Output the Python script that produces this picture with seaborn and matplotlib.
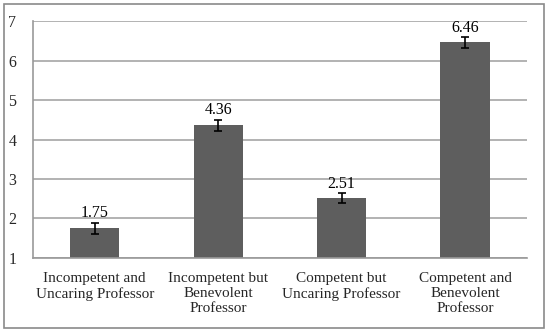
import matplotlib
matplotlib.use("Agg")
import matplotlib.pyplot as plt
import seaborn as sns
import pandas as pd
from matplotlib.patches import Rectangle

categories = ["Incompetent and\nUncaring Professor",
              "Incompetent but\nBenevolent\nProfessor",
              "Competent but\nUncaring Professor",
              "Competent and\nBenevolent\nProfessor"]
means = [1.75, 4.36, 2.51, 6.46]
errors = [0.14, 0.14, 0.13, 0.13]
labels = ["1.75", "4.36", "2.51", "6.46"]
yticks = [1, 2, 3, 4, 5, 6, 7]

sns.set_style("white")
plt.rcParams['font.family'] = ['Liberation Serif', 'DejaVu Serif']

df = pd.DataFrame({"cat": categories, "mean": means})

fig = plt.figure(figsize=(5.5, 3.35), dpi=100)
ax = fig.add_axes([0.06, 0.23, 0.898, 0.707])

sns.barplot(data=df, x="cat", y="mean", color="#5e5e5e", saturation=1,
            width=0.4, ax=ax, bottom=0)
for p in ax.patches:
    h = p.get_height()
    p.set_y(1)
    p.set_height(h - 1)
    p.set_edgecolor("none")

xs = list(range(len(categories)))
ax.errorbar(xs, means, yerr=errors, fmt="none", ecolor="black",
            elinewidth=1.2, capsize=3, capthick=1.2, zorder=5)
for x, m, e, lab in zip(xs, means, errors, labels):
    ax.annotate(lab, (x, m + e), xytext=(0, 1), textcoords="offset points",
                ha="center", va="bottom", fontsize=11.5, color="black")

ax.set_ylim(1, 7)
ax.set_xlim(-0.5, 3.5)
ax.set_yticks(yticks)
ax.set_yticklabels([str(t) for t in yticks], fontsize=11.5)
ax.set_xticks(xs)
ax.set_xticklabels(categories, fontsize=11, linespacing=1.2)
ax.set_xticks([0.5, 1.5, 2.5, 3.5, -0.5], minor=True)
ax.tick_params(axis="x", which="major", length=0, pad=10)
ax.tick_params(axis="x", which="minor", length=4, color="#999999", width=1, direction="out")
ax.tick_params(axis="y", length=4, color="#999999", width=1, direction="out", pad=8)
ax.set_xlabel("")
ax.set_ylabel("")
ax.yaxis.grid(True, color="#a6a6a6", linewidth=1.2)
ax.set_axisbelow(True)
for s in ["top", "right"]:
    ax.spines[s].set_visible(False)
for s in ["left", "bottom"]:
    ax.spines[s].set_color("#999999")
    ax.spines[s].set_linewidth(1.2)

fig.patches.append(Rectangle((4 / 550, 7 / 335), 540 / 550, 324 / 335,
                             transform=fig.transFigure, fill=False,
                             edgecolor="#8a8a8a", linewidth=1.2))

fig.savefig("out.png", dpi=100)
